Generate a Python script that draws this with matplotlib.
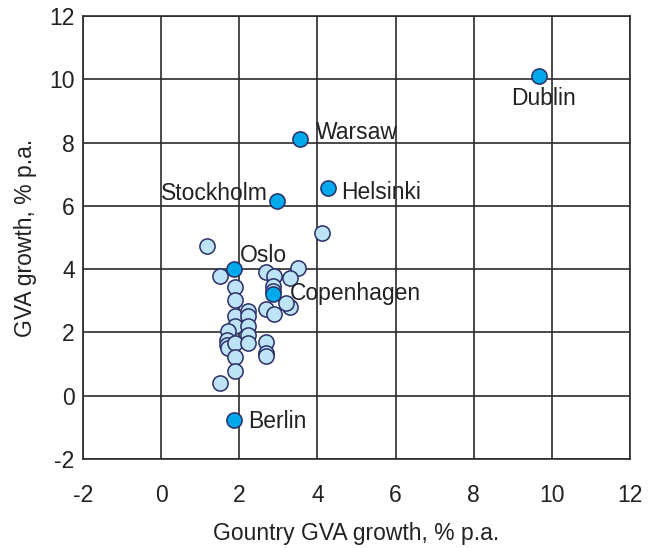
import matplotlib
matplotlib.use("Agg")
import matplotlib.pyplot as plt

plt.rcParams['font.family'] = ['Liberation Sans', 'DejaVu Sans']
plt.rcParams['axes.unicode_minus'] = False

# Other cities (light markers)
other_x = [1.17, 4.11, 1.51, 1.89, 1.89, 2.69, 2.89, 3.49, 3.30, 2.87, 2.87,
           2.69, 2.89, 3.30, 3.20, 1.89, 2.22, 2.22, 1.89, 1.70, 2.22, 2.22,
           1.68, 1.68, 1.70, 1.89, 2.22, 2.69, 2.69, 2.69, 1.89, 1.89, 1.51]
other_y = [4.73, 5.13, 3.78, 3.43, 3.04, 3.91, 3.78, 4.04, 3.72, 3.46, 3.30,
           2.74, 2.59, 2.81, 2.93, 2.51, 2.67, 2.51, 2.19, 2.03, 2.19, 1.93,
           1.77, 1.61, 1.51, 1.67, 1.67, 1.69, 1.35, 1.24, 1.22, 0.79, 0.40]

# Highlighted cities
cities = ["Dublin", "Warsaw", "Helsinki", "Stockholm", "Oslo", "Copenhagen", "Berlin"]
city_x = [9.67, 3.55, 4.27, 2.97, 1.87, 2.86, 1.87]
city_y = [10.09, 8.10, 6.55, 6.14, 4.02, 3.23, -0.76]

x_ticks = [-2, 0, 2, 4, 6, 8, 10, 12]
y_ticks = [-2, 0, 2, 4, 6, 8, 10, 12]

FS = 16.5

fig = plt.figure(figsize=(6.59, 5.48), dpi=100)
ax = fig.add_axes([83/659, 1-459/548, (630-83)/659, (459-16)/548])

edge = '#2a2f66'
ax.scatter(other_x, other_y, s=120, facecolor='#bde3f7', edgecolor=edge, linewidth=1.1, zorder=3)
ax.scatter(city_x, city_y, s=120, facecolor='#00a8ec', edgecolor=edge, linewidth=1.1, zorder=4)

offsets = {
    "Dublin": (-20, -16, 'left'),
    "Warsaw": (11.5, 5, 'left'),
    "Helsinki": (9.4, -3, 'left'),
    "Stockholm": (-6.5, 5.8, 'right'),
    "Oslo": (4.3, 9.4, 'left'),
    "Copenhagen": (12, 0, 'left'),
    "Berlin": (10, -1.5, 'left'),
}
for name, x, y in zip(cities, city_x, city_y):
    dx, dy, ha = offsets[name]
    ax.annotate(name, (x, y), xytext=(dx, dy), textcoords='offset points',
                ha=ha, va='center', fontsize=FS, color='#222222', zorder=5)

ax.set_xlim(-2, 12)
ax.set_ylim(-2, 12)
ax.set_xticks(x_ticks)
ax.set_yticks(y_ticks)
ax.grid(True, color='#2b2b2b', linewidth=1.2, zorder=1)
ax.set_axisbelow(True)
for sp in ax.spines.values():
    sp.set_color('#2b2b2b')
    sp.set_linewidth(1.2)
ax.tick_params(axis='both', length=0, labelsize=FS, colors='#222222')
ax.tick_params(axis='x', pad=18)
ax.tick_params(axis='y', pad=6)

ax.set_xlabel("Gountry GVA growth, % p.a.", fontsize=FS, color='#222222', labelpad=11)
ax.set_ylabel("GVA growth, % p.a.", fontsize=FS, color='#222222', labelpad=9)

fig.savefig("out.png", dpi=100)
